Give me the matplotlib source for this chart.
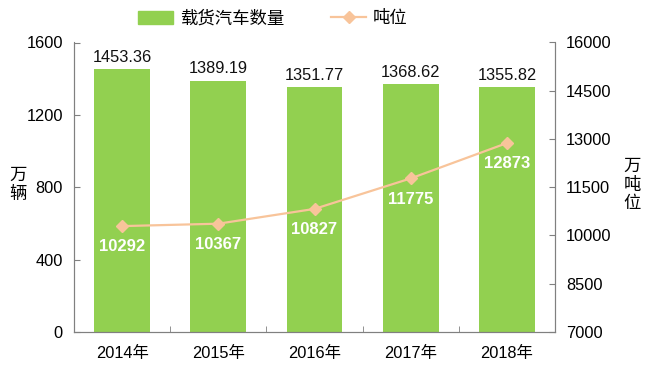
import matplotlib.pyplot as plt
from matplotlib.lines import Line2D
from matplotlib.patches import Patch
import numpy as np

plt.rcParams['font.family'] = ['Liberation Sans', 'Noto Sans CJK SC', 'DejaVu Sans']

years = ['2014年', '2015年', '2016年', '2017年', '2018年']
trucks = [1453.36, 1389.19, 1351.77, 1368.62, 1355.82]
tonnage = [10292, 10367, 10827, 11775, 12873]

bar_color = '#92D050'
line_color = '#F8C49A'
spine_color = '#808080'

fig = plt.figure(figsize=(6.5, 3.89), dpi=100)
ax = fig.add_axes([74 / 650, 1 - 332 / 389, (555 - 74) / 650, (332 - 42.5) / 389])
ax2 = ax.twinx()

x = np.arange(len(years))
ax.bar(x, trucks, width=0.58, color=bar_color, zorder=2)
for xi, v in zip(x, trucks):
    ax.annotate(f'{v:.2f}', (xi, v), xytext=(0, 3), textcoords='offset points',
                ha='center', va='bottom', fontsize=11.8, color='#111111')

ax.set_xlim(-0.5, len(years) - 0.5)
ax.set_ylim(0, 1600)
ax.set_yticks([0, 400, 800, 1200, 1600])
ax.set_xticks(x)
ax.set_xticklabels(years, fontsize=11.8)
ax.set_xticks(np.arange(len(years) + 1) - 0.5, minor=True)
ax.tick_params(axis='x', which='major', length=0, pad=10)
ax.tick_params(axis='x', which='minor', direction='in', length=4, color=spine_color)
ax.tick_params(axis='y', direction='in', length=4, color=spine_color, labelsize=11.8, pad=8)

ax2.plot(x, tonnage, color=line_color, lw=1.6, marker='D', markersize=6, zorder=3)
for xi, v in zip(x, tonnage):
    ax2.annotate(str(v), (xi, v), xytext=(0, -15), textcoords='offset points',
                 ha='center', va='center', fontsize=12, color='white', fontweight='bold')
ax2.set_ylim(7000, 16000)
ax2.set_yticks(np.arange(7000, 16001, 1500))
ax2.tick_params(axis='y', direction='in', length=4, color=spine_color, labelsize=11.8, pad=8)

for a in (ax, ax2):
    a.spines['top'].set_visible(False)
    for s in ('left', 'right', 'bottom'):
        a.spines[s].set_color(spine_color)

fig.text(18 / 650, 1 - 185 / 389, '万\n辆', ha='center', va='center', fontsize=12.5, linespacing=1.2)
fig.text(632 / 650, 1 - 185 / 389, '万\n吨\n位', ha='center', va='center', fontsize=12.5, linespacing=1.2)

handles = [Patch(color=bar_color),
           Line2D([0], [0], color=line_color, lw=1.6, marker='D', markersize=6)]
fig.legend(handles, ['载货汽车数量', '吨位'], loc='center', bbox_to_anchor=(273 / 650, 1 - 18 / 389),
           ncol=2, frameon=False, fontsize=12.5, handlelength=2.0, handletextpad=0.4,
           columnspacing=2.7, borderpad=0, handleheight=0.8)

fig.savefig('out.png', dpi=100)
